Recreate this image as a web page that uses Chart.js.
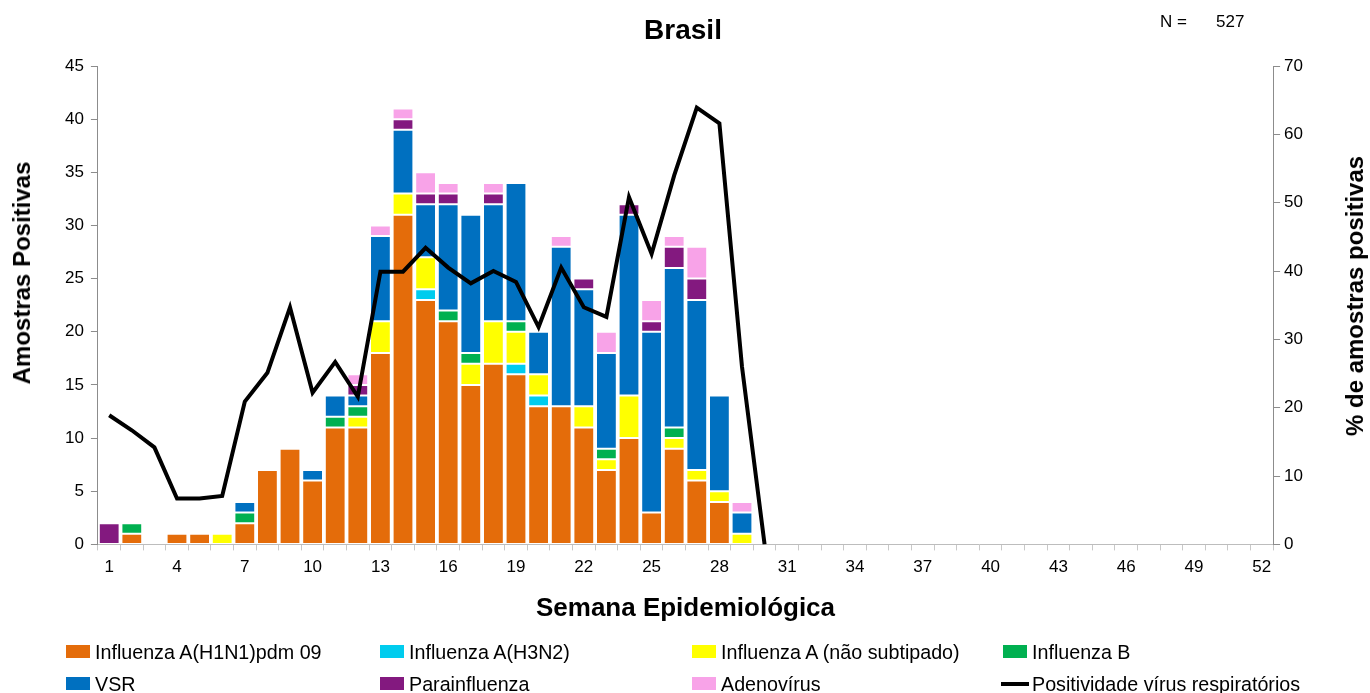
<!DOCTYPE html>
<html>
<head>
<meta charset="utf-8">
<script src="https://cdn.jsdelivr.net/npm/chart.js@4.4.1/dist/chart.umd.min.js"></script>
<style>
  html, body { margin: 0; padding: 0; background: #fff; }
  body { width: 1370px; height: 693px; position: relative; overflow: hidden; font-family: "Liberation Sans", Arial, sans-serif; }
  #wrap { position: absolute; left: 0; top: 0; width: 1370px; height: 693px; }
  #title { position: absolute; left: 683px; top: 30px; transform: translate(-50%, -50%); font-size: 28px; font-weight: bold; color: #000; white-space: nowrap; }
  #nlab1 { position: absolute; left: 1160px; top: 12px; font-size: 17px; color: #000; }
  #nlab2 { position: absolute; left: 1216px; top: 12px; font-size: 17px; color: #000; }
  .vt { position: absolute; font-size: 24px; font-weight: bold; color: #000; white-space: nowrap;
        transform: translate(-50%, -50%) rotate(-90deg); }
  #ltitle { left: 22px; top: 273px; }
  #rtitle { left: 1355px; top: 296px; }
  .lg { position: absolute; font-size: 19.7px; color: #000; white-space: nowrap; line-height: 20px; }
  .sw { position: absolute; width: 24px; height: 13px; }
  .ln { position: absolute; width: 28px; height: 4px; background: #000; }
</style>
</head>
<body>
<div id="wrap"><canvas id="c" width="1370" height="693"></canvas></div>
<div id="title">Brasil</div>
<div id="nlab1">N =</div>
<div id="nlab2">527</div>
<div id="ltitle" class="vt">Amostras Positivas</div>
<div id="rtitle" class="vt">% de amostras positivas</div>
<div id="legend"></div>
<script>
const weeks = ["1","2","3","4","5","6","7","8","9","10","11","12","13","14","15","16","17","18","19","20","21","22","23","24","25","26","27","28","29","30","31","32","33","34","35","36","37","38","39","40","41","42","43","44","45","46","47","48","49","50","51","52"];
const h1n1   = [0,1,0,1,1,0,2,7,9,6,11,11,18,31,23,21,15,17,16,13,13,11,7,10,3,9,6,4,0];
const h3n2   = [0,0,0,0,0,0,0,0,0,0,0,0,0,0,1,0,0,0,1,1,0,0,0,0,0,0,0,0,0];
const fluAns = [0,0,0,0,0,1,0,0,0,0,0,1,3,2,3,0,2,4,3,2,0,2,1,4,0,1,1,1,1];
const fluB   = [0,1,0,0,0,0,1,0,0,0,1,1,0,0,0,1,1,0,1,0,0,0,1,0,0,1,0,0,0];
const vsr    = [0,0,0,0,0,0,1,0,0,1,2,1,8,6,5,10,13,11,13,4,15,11,9,17,17,15,16,9,2];
const para   = [2,0,0,0,0,0,0,0,0,0,0,1,0,1,1,1,0,1,0,0,0,1,0,1,1,2,2,0,0];
const adeno  = [0,0,0,0,0,0,0,0,0,0,0,1,1,1,2,1,0,1,0,0,1,0,2,0,2,1,3,0,1];
const positividade = [18.9,16.7,14.2,6.7,6.7,7.1,20.9,25.1,34.7,22.2,26.7,21.6,39.9,39.9,43.4,40.5,38.2,40.0,38.4,31.8,40.5,34.7,33.3,50.8,42.5,54.0,63.9,61.6,26.0,0];

const seriesNames = ["Influenza A(H1N1)pdm 09","Influenza A(H3N2)","Influenza A (não subtipado)","Influenza B","VSR","Parainfluenza","Adenovírus"];
const seriesData = [h1n1,h3n2,fluAns,fluB,vsr,para,adeno];
const seriesColors = ["#E46C0A","#00CCEE","#FFFF00","#00B050","#0070C0","#83197F","#F8A3E8"];
const lineName = "Positividade vírus respiratórios";

const FONT = "'Liberation Sans', Arial, sans-serif";

const datasets = seriesNames.map((n,i)=>({
  type:'bar', label:n, data:seriesData[i], backgroundColor:seriesColors[i],
  borderColor:'rgba(255,255,255,0.55)', borderWidth:1, borderSkipped:false,
  barPercentage:0.92, categoryPercentage:1.0, stack:'s', yAxisID:'y', order:1
}));
datasets.push({
  type:'line', label:lineName, data:positividade, borderColor:'#000', borderWidth:4,
  pointRadius:0, tension:0, yAxisID:'y1', order:0, fill:false
});

new Chart(document.getElementById('c'), {
  data:{ labels:weeks, datasets },
  options:{
    responsive:false, animation:false,
    layout:{ padding:{ left:58, right:63, top:66, bottom:69 } },
    plugins:{ legend:{ display:false }, tooltip:{ enabled:false }, title:{ display:false } },
    scales:{
      x:{
        stacked:true, offset:true,
        grid:{ display:true, drawOnChartArea:false, drawTicks:true, tickLength:6, color:'#c8c8c8', offset:true },
        border:{ display:true, color:'#bdbdbd', dash:[3,2] },
        ticks:{ autoSkip:false, maxRotation:0, color:'#000', font:{ family:FONT, size:17 }, padding:7,
          callback:function(v,i){ return (i%3===0) ? this.getLabelForValue(v) : ''; } },
        title:{ display:true, text:'Semana Epidemiológica', color:'#000', font:{ family:FONT, size:26, weight:'bold' }, padding:{ top:8, bottom:0 } }
      },
      y:{
        stacked:true, min:0, max:45, position:'left',
        grid:{ drawOnChartArea:false, drawTicks:true, tickLength:7, color:'#8c8c8c' },
        border:{ display:true, color:'#8c8c8c' },
        ticks:{ stepSize:5, color:'#000', font:{ family:FONT, size:17 }, padding:7 }
      },
      y1:{
        stacked:false, min:0, max:70, position:'right',
        grid:{ drawOnChartArea:false, drawTicks:true, tickLength:7, color:'#8c8c8c' },
        border:{ display:true, color:'#8c8c8c' },
        ticks:{ stepSize:10, color:'#000', font:{ family:FONT, size:17 }, padding:4 }
      }
    }
  }
});

// HTML legend
const legendPos = [[66,644],[380,644],[692,644],[1003,644],[66,676],[380,676],[692,676],[1003,676]];
const lg = document.getElementById('legend');
const names = seriesNames.concat([lineName]);
names.forEach((n,i)=>{
  const [x,y] = legendPos[i];
  if (i < seriesNames.length) {
    const s = document.createElement('div'); s.className='sw';
    s.style.left = x+'px'; s.style.top = (y+1)+'px'; s.style.background = seriesColors[i];
    lg.appendChild(s);
  } else {
    const l = document.createElement('div'); l.className='ln';
    l.style.left = (x-2)+'px'; l.style.top = (y+6)+'px';
    lg.appendChild(l);
  }
  const t = document.createElement('div'); t.className='lg';
  t.style.left = (x+29)+'px'; t.style.top = (y-2)+'px'; t.textContent = n;
  lg.appendChild(t);
});
</script>
</body>
</html>
